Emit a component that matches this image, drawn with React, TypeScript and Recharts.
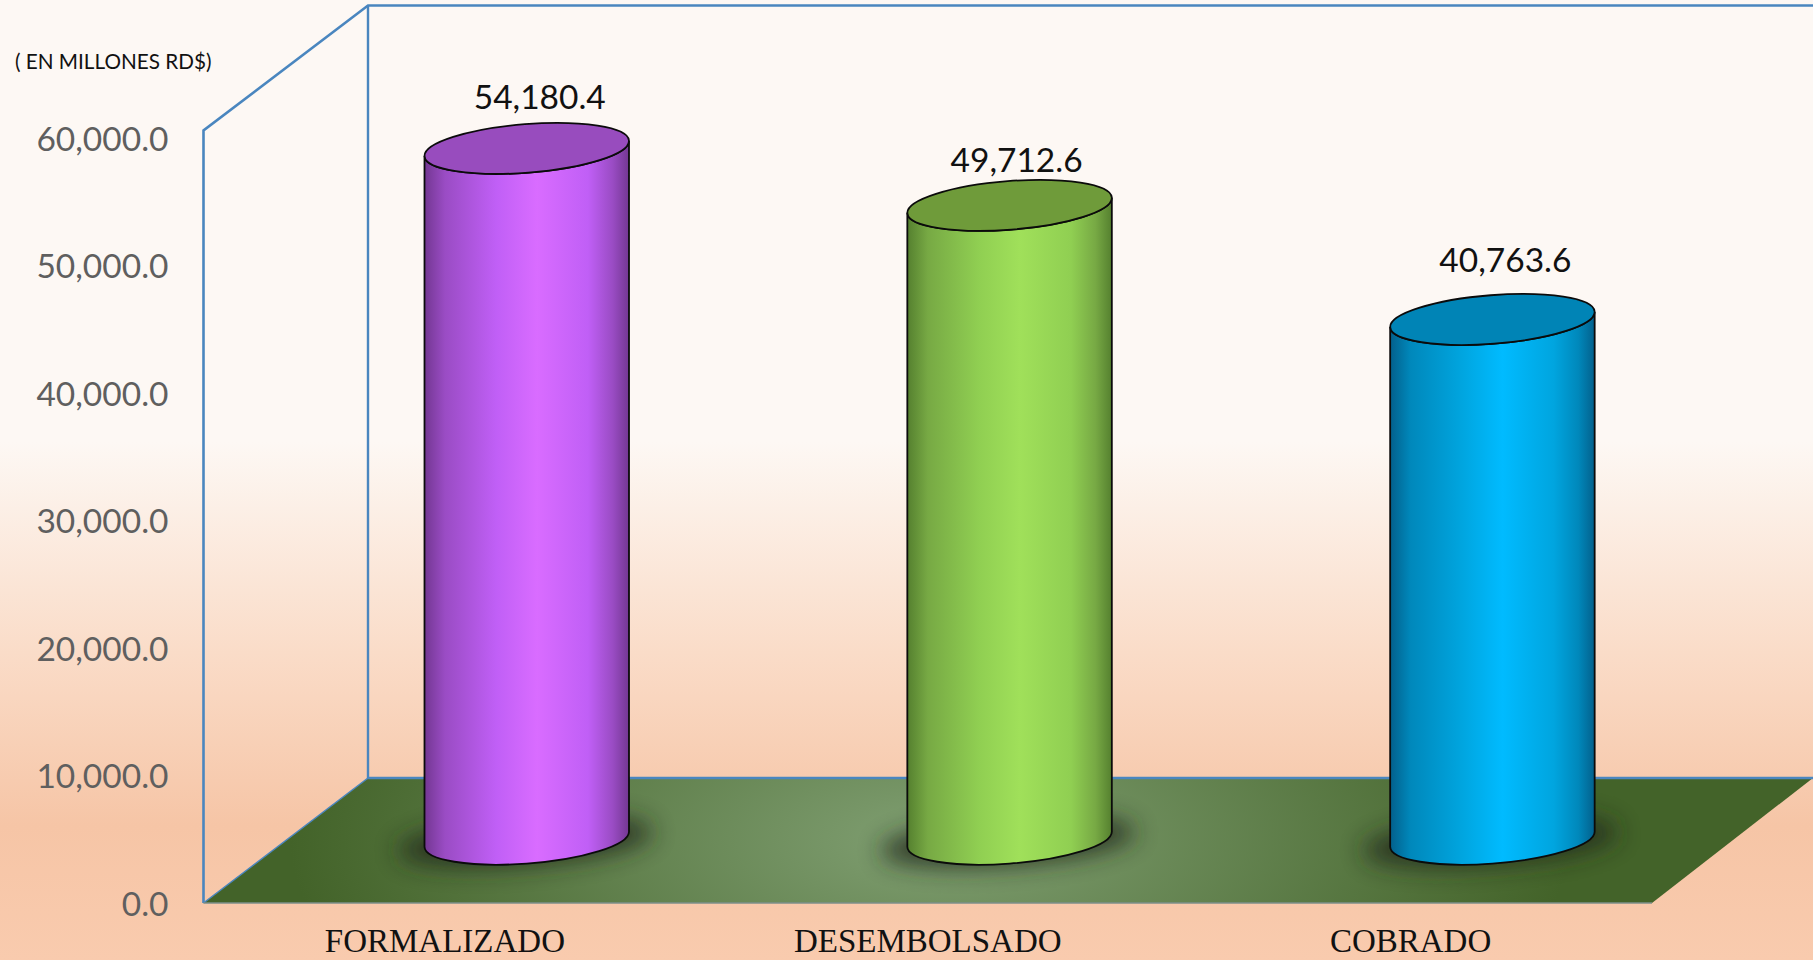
import { Bar, BarChart, LabelList, XAxis, YAxis } from "recharts";

const categories = ["FORMALIZADO", "DESEMBOLSADO", "COBRADO"];
const values = [54180.4, 49712.6, 40763.6];
const yTicks = [0, 10000, 20000, 30000, 40000, 50000, 60000];

const gradientIds = ["cylPurple", "cylGreen", "cylBlue"];
const topColors = ["#984cbe", "#6f9b3a", "#0084b6"];
const labelNudge = [
  { dx: 13, dy: -52 },
  { dx: 7, dy: -46 },
  { dx: 13, dy: -60 },
];

const data = categories.map((name, i) => ({ name, value: values[i] }));

const WIDTH = 1813;
const HEIGHT = 960;
const PLOT = { left: 203.5, right: 1652, top: 138, bottom: 903 };
const WALL_COLOR = "#4a86bf";
const SANS = "Lato, 'Open Sans', sans-serif";

// half of the chart depth: the cylinders stand mid way on the floor
const DEPTH_X = 82;
const DEPTH_Y = 63.8;
const RX = 102.5;
const RY = 24.3;
const TILT = -4.45;
const HALF_W = 102.25;
const EDGE_DY = 7.5;

function Cylinder(props: any) {
  const { x, y, width, height, index } = props;
  const cx = x + width / 2 + DEPTH_X;
  const ty = y - DEPTH_Y;
  const by = y + height - DEPTH_Y;
  const body = [
    `M ${cx - HALF_W} ${ty + EDGE_DY}`,
    `L ${cx - HALF_W} ${by + EDGE_DY}`,
    `A ${RX} ${RY} ${TILT} 0 0 ${cx + HALF_W} ${by - EDGE_DY}`,
    `L ${cx + HALF_W} ${ty - EDGE_DY}`,
    `A ${RX} ${RY} ${TILT} 0 1 ${cx - HALF_W} ${ty + EDGE_DY}`,
    "Z",
  ].join(" ");
  return (
    <g>
      <ellipse
        cx={cx - 2}
        cy={by + 2}
        rx={128}
        ry={24}
        transform={`rotate(${TILT} ${cx} ${by})`}
        fill="#242b1d"
        opacity={0.85}
        filter="url(#softShadow)"
      />
      <path d={body} fill={`url(#${gradientIds[index]})`} stroke="#0b0b0b" strokeWidth={1.8} />
      <ellipse
        cx={cx}
        cy={ty}
        rx={RX}
        ry={RY}
        transform={`rotate(${TILT} ${cx} ${ty})`}
        fill={topColors[index]}
        stroke="#0b0b0b"
        strokeWidth={1.8}
      />
    </g>
  );
}

function ValueLabel(props: any) {
  const { x, y, width, index, value } = props;
  const nudge = labelNudge[index];
  return (
    <text
      x={x + width / 2 + DEPTH_X + nudge.dx}
      y={y - DEPTH_Y + nudge.dy}
      textAnchor="middle"
      dominantBaseline="central"
      fontFamily={SANS}
      fontSize={33.5}
      fill="#111111"
    >
      {Number(value).toLocaleString("en-US", { minimumFractionDigits: 1, maximumFractionDigits: 1 })}
    </text>
  );
}

function Gradient({ id, stops }: { id: string; stops: string[] }) {
  return (
    <linearGradient id={id} x1="0" y1="0" x2="1" y2="0">
      <stop offset="0%" stopColor={stops[0]} />
      <stop offset="10%" stopColor={stops[1]} />
      <stop offset="35%" stopColor={stops[2]} />
      <stop offset="55%" stopColor={stops[3]} />
      <stop offset="80%" stopColor={stops[2]} />
      <stop offset="92%" stopColor={stops[1]} />
      <stop offset="100%" stopColor={stops[0]} />
    </linearGradient>
  );
}

// walls and floor of the 3D frame, behind the bars
function Frame() {
  return (
    <g>
      <polygon points="203.5,903 368,778 1813,778 1652,903" fill="url(#floorFill)" />
      <path d="M 203.5 903 L 203.5 130.5 L 368 5.5 L 1813 5.5" fill="none" stroke={WALL_COLOR} strokeWidth={2.6} />
      <path d="M 368 5.5 L 368 778 L 1813 778" fill="none" stroke={WALL_COLOR} strokeWidth={2.4} />
      <path d="M 203.5 903 L 368 778" fill="none" stroke={WALL_COLOR} strokeWidth={1.5} />
      <path d="M 203.5 903 L 1652 903" fill="none" stroke="#7c8f8a" strokeWidth={1.5} />
    </g>
  );
}

export default function App() {
  return (
    <div
      style={{
        position: "absolute",
        left: 0,
        top: 0,
        width: WIDTH,
        height: HEIGHT,
        background:
          "linear-gradient(180deg, #fdf8f4 0%, #fdf8f4 46%, #fadcc8 68%, #f6c5a6 86%, #f9cbae 100%)",
      }}
    >
      <BarChart
        width={WIDTH}
        height={HEIGHT}
        data={data}
        margin={{ top: PLOT.top, right: WIDTH - PLOT.right, bottom: 0, left: 0 }}
        barCategoryGap={0}
      >
        <defs>
          <Gradient id="cylPurple" stops={["#733792", "#9a4cc4", "#c05ff6", "#d96cff"]} />
          <Gradient id="cylGreen" stops={["#55802f", "#77a944", "#90cf52", "#a0e05a"]} />
          <Gradient id="cylBlue" stops={["#03608c", "#0088bb", "#00a5df", "#00bbff"]} />
          <radialGradient
            id="floorFill"
            gradientUnits="userSpaceOnUse"
            cx={930}
            cy={840}
            r={640}
            gradientTransform="translate(930 840) scale(1 0.45) translate(-930 -840)"
          >
            <stop offset="0%" stopColor="#809f72" />
            <stop offset="100%" stopColor="#436329" />
          </radialGradient>
          <filter id="softShadow" x="-30%" y="-100%" width="160%" height="300%">
            <feGaussianBlur stdDeviation="12" />
          </filter>
        </defs>
        <Frame />
        <XAxis
          dataKey="name"
          height={HEIGHT - PLOT.bottom}
          axisLine={false}
          tickLine={false}
          tickMargin={20}
          interval={0}
          tick={{ fontFamily: "'Liberation Serif', serif", fontSize: 33, fill: "#111111" }}
        />
        <YAxis
          width={PLOT.left}
          domain={[0, 60000]}
          ticks={yTicks}
          axisLine={false}
          tickLine={false}
          tickMargin={29}
          interval={0}
          tick={{ fontFamily: SANS, fontSize: 33.5, fill: "#5f5f5f", dy: 1 }}
          tickFormatter={(v: number) => v.toLocaleString("en-US", { minimumFractionDigits: 1, maximumFractionDigits: 1 })}
        />
        <Bar dataKey="value" barSize={204.5} shape={Cylinder} isAnimationActive={false}>
          <LabelList dataKey="value" content={ValueLabel} />
        </Bar>
        <text x={15} y={69} fontFamily={SANS} fontSize={20.7} fill="#111111">
          ( EN MILLONES RD$)
        </text>
      </BarChart>
    </div>
  );
}
